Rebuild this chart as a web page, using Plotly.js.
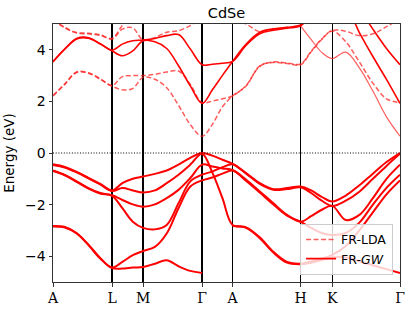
<!DOCTYPE html>
<html><head><meta charset="utf-8">
<script src="https://cdn.plot.ly/plotly-3.0.1.min.js"></script>
<style>html,body{margin:0;padding:0;background:#fff}#plot{width:415px;height:311px}</style>
</head><body><div id="plot"></div>
<script>
// k-path sample positions (A-L-M-Γ-A-H-K-Γ)
const kpath = [0, 11.8, 23.6, 35.4, 47.2, 59, 69.3, 79.7, 90, 101.8, 113.6, 125.4, 137.2, 149,
  159.1, 169.3, 179.4, 193, 206.6, 220.2, 233.8, 247.4, 257.9, 268.5, 279, 292.5, 306.1, 319.6, 333.2, 346.7];
const symK = [0, 59, 90, 149, 179.4, 247.4, 279, 346.7];
const symLabels = ['A', 'L', 'M', 'Γ', 'A', 'H', 'K', 'Γ'];
const yTicks = [-4, -2, 0, 2, 4];

// valence bands (FR-GW ≈ FR-LDA)
const vb1 = [-0.44,-0.54,-0.73,-0.96,-1.2,-1.45, -1.17,-1.0,-0.91, -0.81,-0.68,-0.45,-0.19,0, -0.1,-0.26,-0.42, -0.78,-1.17,-1.40,-1.36,-1.30, -1.45,-1.7,-1.88, -1.65,-1.25,-0.8,-0.35,0];
const vb2 = [-0.46,-0.56,-0.75,-0.98,-1.22,-1.47, -1.36,-1.45,-1.53, -1.45,-1.17,-0.84,-0.45,-0.03, -0.75,-1.75,-2.79, -2.88,-3.27,-3.83,-4.22,-4.29, -4.2,-4.1,-3.95, -3.6,-3.0,-2.3,-1.6,-1.06];
const vb3 = [-0.68,-0.85,-1.1,-1.36,-1.55,-1.64, -1.82,-1.99,-2.08, -1.99,-1.75,-1.43,-0.97,-0.45, -0.52,-0.6,-0.66, -1.04,-1.49,-1.95,-2.4,-2.66, -2.45,-2.2,-2.05, -2.6,-2.4,-1.75,-1.0,-0.45];
const vb4 = [-0.7,-0.87,-1.12,-1.38,-1.57,-1.66, -2.14,-2.66,-2.9, -2.96,-2.79,-1.95,-1.1,-0.84, -0.72,-0.55,-0.44, -0.8,-1.2,-1.43,-1.4,-1.33, -1.55,-1.85,-2.05, -1.85,-1.5,-1.0,-0.5,-0.03];
const vb5 = [-2.83,-2.87,-3.1,-3.55,-4.07,-4.44, -4.22,-3.96,-3.8, -3.64,-3.12,-2.14,-1.3,-1.06, -0.95,-0.8,-0.68, -1.08,-1.53,-2.0,-2.43,-2.67, -2.9,-3.1,-3.18, -3.1,-2.7,-2.0,-1.35,-0.84];
const vb6 = [-2.85,-2.89,-3.12,-3.57,-4.09,-4.46, -4.48,-4.44,-4.42, -4.29,-4.16,-4.39,-4.57,-4.65, null,null,-2.83, -2.9,-3.3,-3.86,-4.25,-4.31, -4.25,-4.15,-4.05, -4.05,-4.2,-4.35,-4.5,-4.65];

// conduction bands FR-GW
const gw1 = [3.53,4.02,4.42,4.45,4.22,3.96, 3.77,3.96,4.35, 4.31,4.05,3.38,2.6,1.92, 2.44,3.01,3.55, 4.22,4.68,4.81,4.87,4.96, 5.3,5.6,5.9, 5.7,4.67,3.74,2.85,1.92];
const gw2 = [3.55,4.04,4.44,4.47,4.24,3.98, 4.22,4.35,4.38, 4.44,4.55,4.59,4.03,3.42, 3.44,3.48,3.55, 4.18,4.62,4.76,4.84,4.93, 5.4,5.8,6.2, 6.3,5.6,4.8,4.05,3.42];

// conduction bands FR-LDA
const lda1 = [2.21,2.66,3.12,3.09,2.86,2.59, 2.45,2.5,2.93, 2.86,2.53,1.85,1.1,0.65, 1.1,1.79,2.21, 2.6,3.38,3.51,3.47,3.42, 3.92,4.4,4.73, 4.31,3.53,2.71,2.1,1.95];
const lda2 = [2.23,2.68,3.14,3.11,2.88,2.61, 2.96,3.0,3.0, 3.05,3.14,3.18,2.66,1.95, 2.01,2.1,2.21, 2.62,3.36,3.53,3.49,3.45, 3.94,4.42,4.75, 4.72,4.55,4.62,4.9,5.2];
const lda3 = [5.15,4.85,4.65,4.62,4.56,4.42, 4.8,4.85,4.38, 4.48,4.68,4.74,4.94,5.25, 5.35,5.35,5.2, 5.0,4.7,4.8,4.86,4.93, 4.4,3.9,3.66, 3.91,3.3,2.4,1.4,0.65];
const lda4 = [5.17,4.87,4.67,4.64,4.58,4.44, 4.95,5.4,5.7, null,null,null,null,null, null,null,null, null,null,null,null,null, null,null,null, null,null,null,null,null];

const ldaColor = 'rgba(255,30,30,0.72)';
const traces = [];
function addLda(y, showlegend) {
  traces.push({x: kpath, y: y, mode: 'lines', type: 'scatter', name: 'FR-LDA', showlegend: showlegend,
    line: {color: ldaColor, width: 1.5, dash: '5px,2.5px', shape: 'spline', smoothing: 1},
    connectgaps: false, hoverinfo: 'skip'});
}
addLda(lda1, true);
addLda(lda2, false);
addLda(lda4, false);
// lda3: dashed up to H, drawn as a thin continuous line from H to Γ (spin pair overlapping)
const hK = symK[5];
addLda(lda3.map((v, i) => kpath[i] <= hK ? v : null), false);
traces.push({x: kpath, y: lda3.map((v, i) => kpath[i] >= hK ? v : null), mode: 'lines', type: 'scatter',
  showlegend: false, line: {color: 'rgba(255,40,40,0.75)', width: 1.2, shape: 'spline', smoothing: 1},
  connectgaps: false, hoverinfo: 'skip'});

[gw1, gw2].forEach((b, i) => traces.push({
  x: kpath, y: b, mode: 'lines', type: 'scatter',
  name: 'FR-<i>GW</i>', showlegend: i === 0,
  line: {color: '#ff0000', width: 1.6, shape: 'spline', smoothing: 1}, hoverinfo: 'skip'
}));
[vb1, vb2, vb3, vb4, vb5, vb6].forEach(b => traces.push({
  x: kpath, y: b, mode: 'lines', type: 'scatter', showlegend: false, connectgaps: false,
  line: {color: '#ff0000', width: 2, shape: 'spline', smoothing: 1}, hoverinfo: 'skip'
}));

const layout = {
  width: 415, height: 311,
  margin: {l: 53, r: 15, t: 24, b: 29, pad: 0},
  paper_bgcolor: '#fff', plot_bgcolor: '#fff',
  font: {family: 'DejaVu Sans', size: 13.5, color: '#000'},
  title: {text: 'CdSe', x: 0.5, xref: 'paper', y: 0.96, yref: 'container', yanchor: 'middle',
          font: {family: 'DejaVu Sans', size: 14.5, color: '#000'}},
  showlegend: true,
  legend: {x: 0.98, y: 0.028, xanchor: 'right', yanchor: 'bottom',
           bgcolor: 'rgba(255,255,255,0.8)', bordercolor: '#cccccc', borderwidth: 1,
           font: {family: 'DejaVu Sans', size: 12.5, color: '#000'}, tracegroupgap: 0},
  xaxis: {range: [symK[0], symK[symK.length - 1]], tickvals: symK, ticktext: symLabels,
          showgrid: true, gridcolor: '#000', gridwidth: 1.4, zeroline: false,
          showline: true, mirror: true, linecolor: '#333', linewidth: 1,
          ticks: 'outside', ticklen: 3.5, tickcolor: '#333',
          tickfont: {family: 'DejaVu Serif', size: 14, color: '#000'}},
  yaxis: {range: [-5, 5], tickvals: yTicks, showgrid: false, zeroline: false,
          showline: true, mirror: true, linecolor: '#333', linewidth: 1,
          ticks: 'outside', ticklen: 3.5, tickcolor: '#333',
          tickfont: {family: 'DejaVu Sans', size: 14, color: '#000'},
          title: {text: 'Energy (eV)', standoff: 7, font: {family: 'DejaVu Sans', size: 13.5, color: '#000'}}},
  shapes: [{type: 'line', xref: 'paper', x0: 0, x1: 1, yref: 'y', y0: 0, y1: 0,
            line: {color: '#000', width: 1, dash: '1px,1.7px'}, layer: 'above'}]
};
Plotly.newPlot('plot', traces, layout, {displayModeBar: false, staticPlot: true});
</script></body></html>
